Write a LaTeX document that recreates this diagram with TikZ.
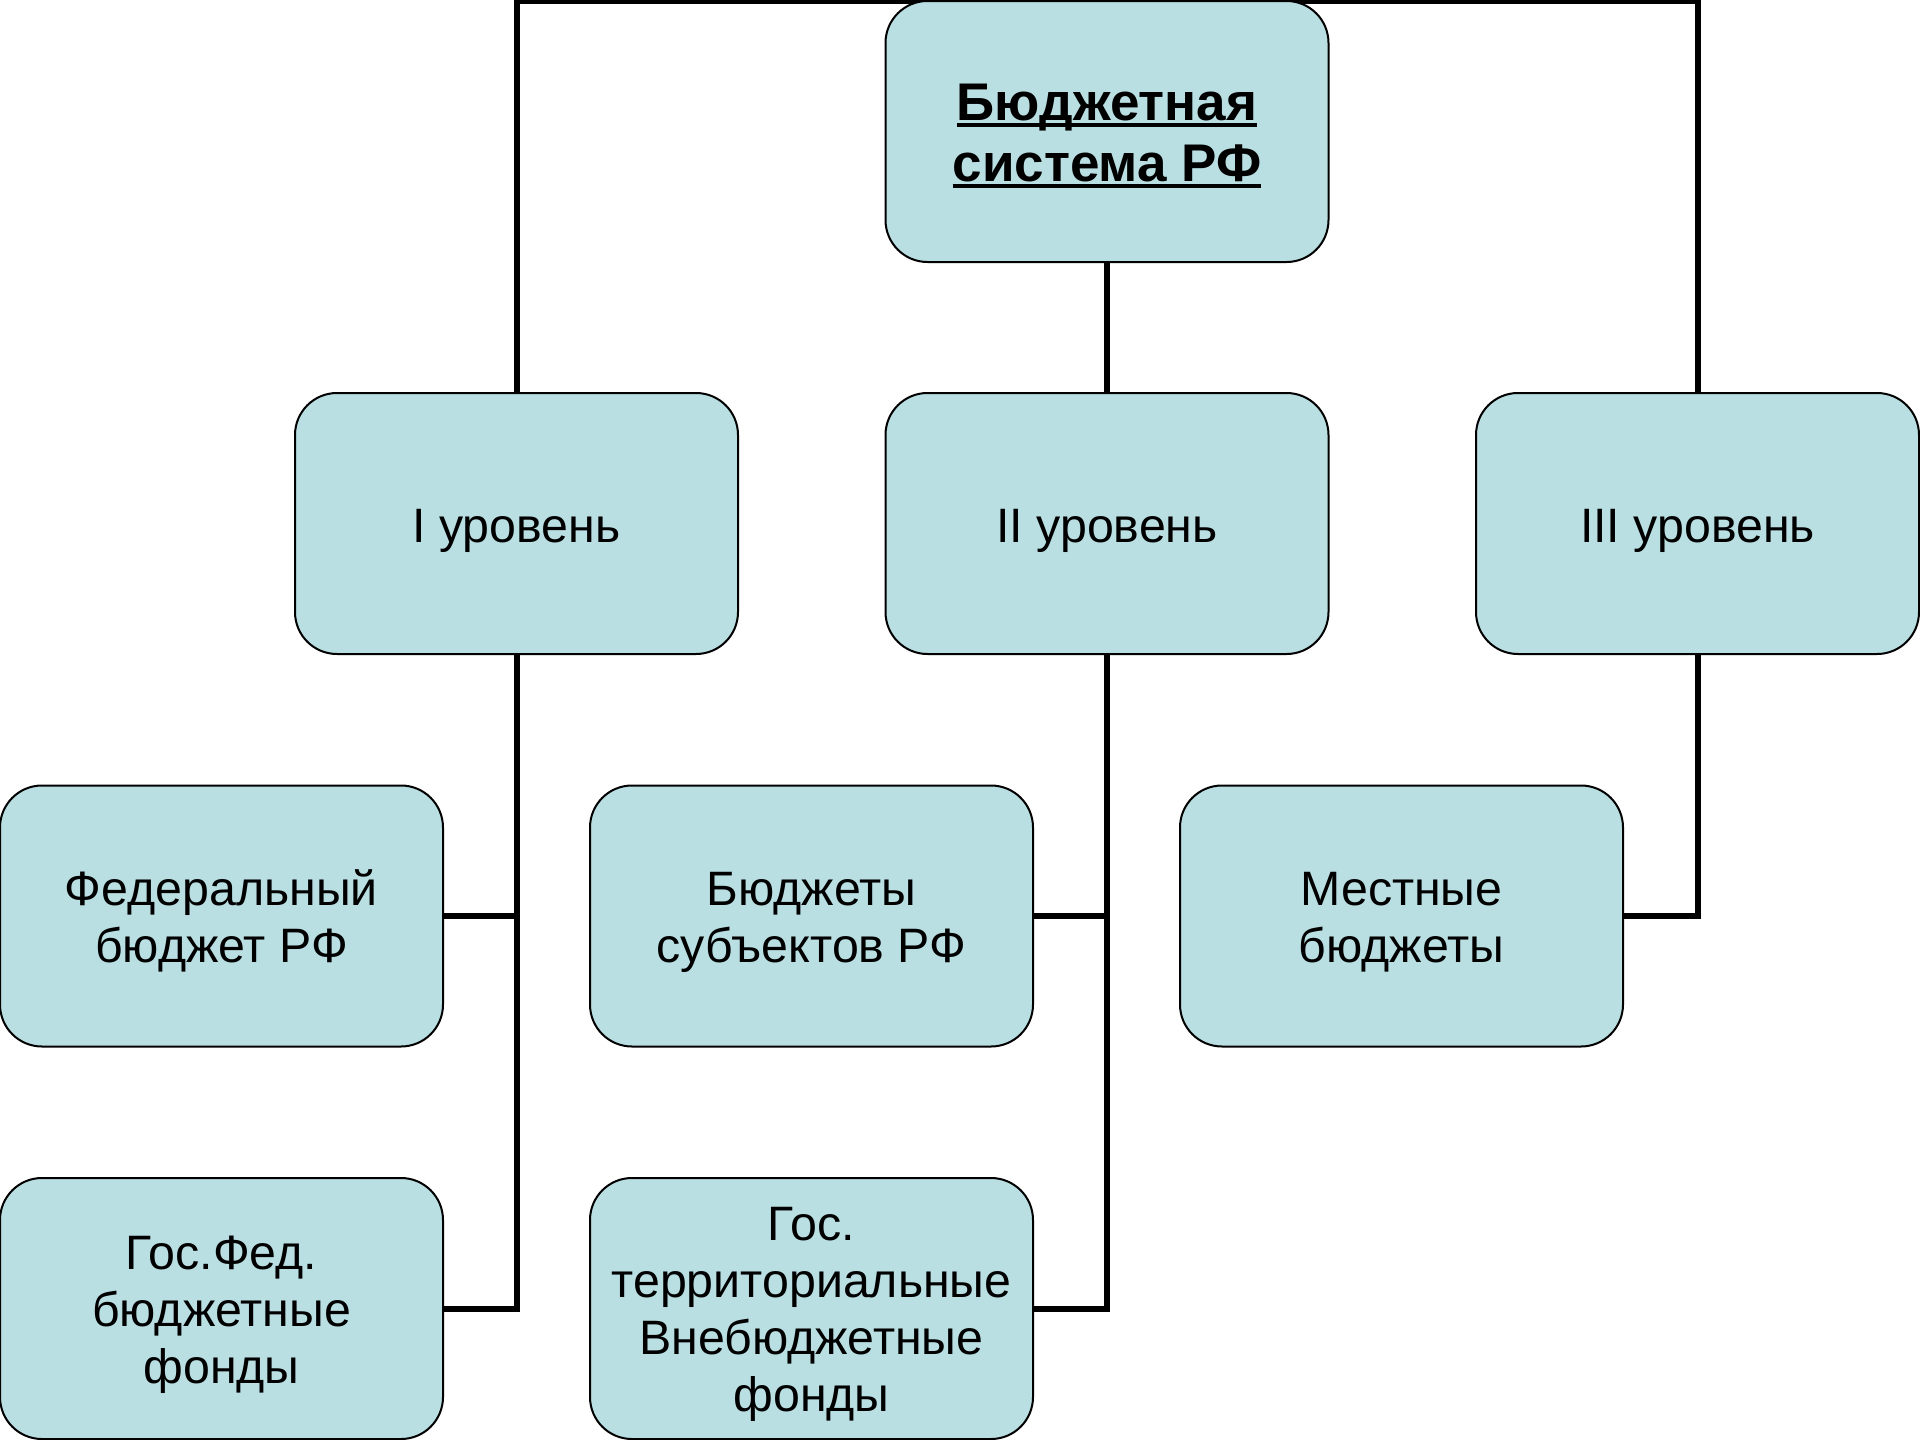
\documentclass[tikz,border=0pt]{standalone}
\usepackage{fontspec}
\setmainfont{Liberation Sans}
\usetikzlibrary{backgrounds}
\definecolor{boxfill}{RGB}{185,223,227}
\newcommand{\myul}[1]{\leavevmode\vtop{\hbox{\raisebox{0pt}[\height][0pt]{#1}}\kern2.5pt\hrule height 4pt}}
\newcommand{\fl}[1]{\rule{0pt}{#1pt}}
\tikzset{
  box/.style={draw=black, line width=2pt, fill=boxfill, rounded corners=42pt,
    minimum width=443pt, minimum height=261pt, inner sep=0pt, align=center,
    font=\fontsize{48.3}{57}\selectfont},
  titlebox/.style={box, font=\fontsize{53}{61}\selectfont\bfseries},
  conn/.style={draw=black, line width=6pt}
}
\begin{document}
\begin{tikzpicture}[x=1pt,y=-1pt]
\useasboundingbox (0,0) rectangle (1920,1440);
\node[titlebox] (top) at (1107,131.5) {\fl{45}\myul{Бюджетная}\\\myul{система РФ}};
\node[box] (L1) at (516.5,523.5) {\fl{48}I уровень};
\node[box] (L2) at (1107,523.5) {\fl{48}II уровень};
\node[box] (L3) at (1697.5,523.5) {\fl{48}III уровень};
\node[box] (fed) at (221.5,916) {\fl{46}Федеральный\\бюджет РФ};
\node[box] (subj) at (811.5,916) {\fl{46}Бюджеты\\субъектов РФ};
\node[box] (loc) at (1401.5,916) {\fl{46}Местные\\бюджеты};
\node[box] (gfed) at (221.5,1308.5) {\fl{45}Гос.Фед.\\бюджетные\\фонды};
\node[box] (gterr) at (811.5,1308.5) {\fl{44}Гос.\\территориальные\\Внебюджетные\\фонды};
\coordinate (bar) at (1107,0.5);
\begin{pgfonlayer}{background}
\draw[conn] (L1.north) |- (bar) -| (L3.north);
\draw[conn] (top.south) -- (L2.north);
\draw[conn] (L1.south) |- (gfed.east);
\draw[conn] (fed.east) -- (fed.east -| L1.south);
\draw[conn] (L2.south) |- (gterr.east);
\draw[conn] (subj.east) -- (subj.east -| L2.south);
\draw[conn] (L3.south) |- (loc.east);
\end{pgfonlayer}
\end{tikzpicture}
\end{document}
